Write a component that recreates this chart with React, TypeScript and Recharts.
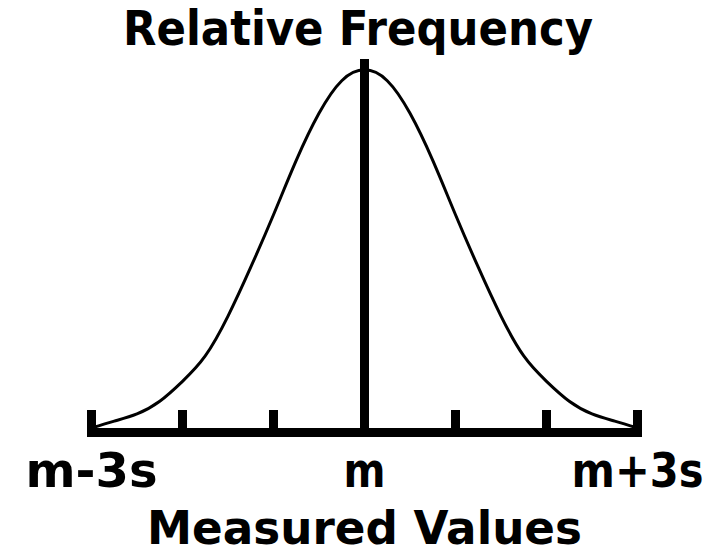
import React from "react";
import { LineChart, Line, XAxis, YAxis, ReferenceLine } from "recharts";

// Measured values in standard deviations from the mean
const xValues = [-3, -2.75, -2.5, -2.25, -2, -1.75, -1.5, -1.25, -1, -0.75, -0.5, -0.25, 0, 0.25, 0.5, 0.75, 1, 1.25, 1.5, 1.75, 2, 2.25, 2.5, 2.75, 3];
// Relative frequency (peak = 1)
const freqValues = [0.011, 0.03, 0.05, 0.085, 0.14, 0.21, 0.32, 0.455, 0.6, 0.75, 0.88, 0.97, 1.0, 0.97, 0.88, 0.75, 0.6, 0.455, 0.32, 0.21, 0.14, 0.085, 0.05, 0.03, 0.011];
const tickValues = [-3, -2, -1, 0, 1, 2, 3];
const tickLabels = ["m-3s", "", "", "m", "", "", "m+3s"];
const titleText = "Relative Frequency";
const xAxisTitle = "Measured Values";

const data = xValues.map((x, i) => ({ x, f: freqValues[i] }));

const FONT = "'DejaVu Sans', 'Liberation Sans', sans-serif";
const labelWidths: Record<string, number> = { "m-3s": 132, m: 42, "m+3s": 132 };

const AxisTick = (props: any) => {
  const { x, y, payload } = props;
  const idx = tickValues.indexOf(payload.value);
  const label = idx >= 0 ? tickLabels[idx] : "";
  return (
    <g>
      <line x1={x} x2={x} y1={y - 22} y2={y} stroke="#000" strokeWidth={9} shapeRendering="crispEdges" />
      {label ? (
        <text
          x={x}
          y={y + 55}
          textAnchor="middle"
          fontFamily={FONT}
          fontWeight="bold"
          fontSize={48}
          fill="#000"
          textLength={labelWidths[label]}
          lengthAdjust="spacingAndGlyphs"
        >
          {label}
        </text>
      ) : null}
    </g>
  );
};

const AxisTitle = (props: any) => {
  const vb = props.viewBox || {};
  return (
    <text
      x={vb.x + vb.width / 2}
      y={vb.y + 112}
      textAnchor="middle"
      fontFamily={FONT}
      fontWeight="bold"
      fontSize={47}
      fill="#000"
      textLength={435}
      lengthAdjust="spacingAndGlyphs"
    >
      {xAxisTitle}
    </text>
  );
};

export default function App() {
  return (
    <div style={{ position: "absolute", left: 0, top: 0, width: 720, height: 550, background: "#fff" }}>
      <LineChart
        width={720}
        height={550}
        data={data}
        margin={{ top: 59, right: 82.5, left: 91.5, bottom: 58 }}
      >
        <XAxis
          dataKey="x"
          type="number"
          domain={[-3, 3]}
          ticks={tickValues}
          interval={0}
          height={60}
          tickSize={0}
          tickMargin={0}
          tickLine={false}
          axisLine={{ stroke: "#000", strokeWidth: 9, strokeLinecap: "square", shapeRendering: "crispEdges" }}
          tick={<AxisTick />}
          label={<AxisTitle />}
        />
        <YAxis hide domain={[0, 1.03]} />
        <Line
          type="natural"
          dataKey="f"
          stroke="#000"
          strokeWidth={3}
          dot={false}
          isAnimationActive={false}
        />
        <ReferenceLine x={0} stroke="#000" strokeWidth={9} shapeRendering="crispEdges" />
      </LineChart>
      <svg width={720} height={70} style={{ position: "absolute", left: 0, top: 0 }}>
        <text
          x={358}
          y={45}
          textAnchor="middle"
          fontFamily={FONT}
          fontWeight="bold"
          fontSize={48}
          fill="#000"
          textLength={470}
          lengthAdjust="spacingAndGlyphs"
        >
          {titleText}
        </text>
      </svg>
    </div>
  );
}
